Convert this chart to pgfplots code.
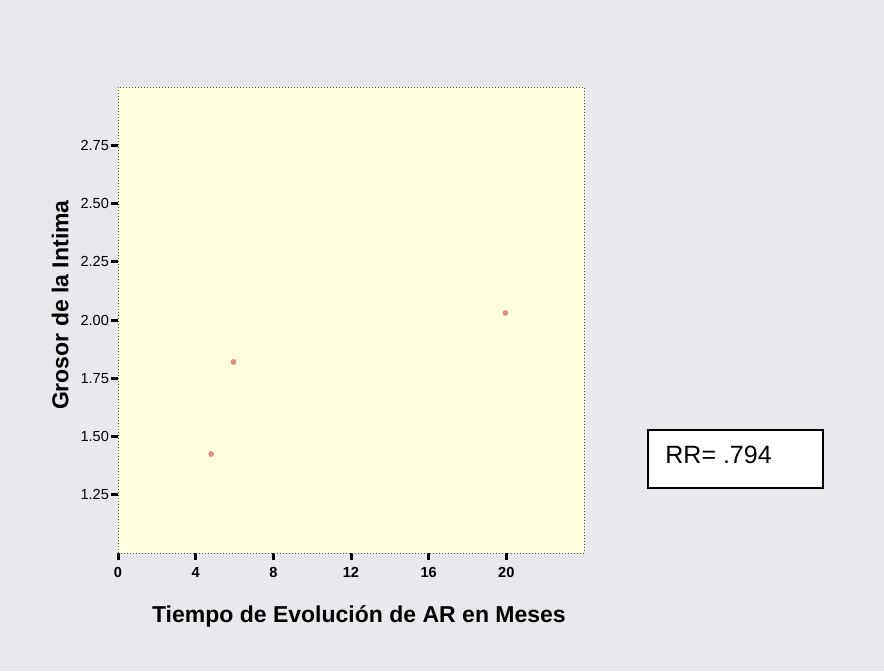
\documentclass[border=0pt]{standalone}
\usepackage{fontspec}
\setmainfont{Liberation Sans}
\usepackage{pgfplots}
\pgfplotsset{compat=1.18}
\definecolor{bgpage}{RGB}{233,233,237}
\definecolor{plotbg}{RGB}{255,255,222}
\definecolor{ptred}{RGB}{230,140,120}
\begin{document}
\begin{tikzpicture}[x=0.5pt,y=0.5pt]
\fill[bgpage] (0,0) rectangle (884,671);
\begin{axis}[at={(59pt,59pt)},anchor=south west,
  width=233pt,height=233pt,scale only axis,
  xmin=0,xmax=24,ymin=1,ymax=3,
  xtick={0,4,8,12,16,20},ytick={1.25,1.5,1.75,2,2.25,2.5,2.75},
  axis background/.style={fill=plotbg},
  axis line style={densely dotted,black!70,line width=0.5pt},
  tick style={black,line width=1.5pt},major tick length=3.5pt,tick align=outside,
  xtick pos=lower,ytick pos=left,
  /pgf/number format/assume math mode=true,
  yticklabel style={font=\fontsize{7.3}{8}\selectfont,xshift=2.5pt,/pgf/number format/.cd,fixed,fixed zerofill,precision=2},
  xticklabel style={font=\fontsize{7.3}{8}\selectfont\bfseries},
  xlabel={Tiempo de Evolución de AR en Meses},
  ylabel={Grosor de la Intima},
  label style={font=\fontsize{11.5}{13}\selectfont\bfseries},
  xlabel style={at={(axis description cs:0.517,-0.137)},anchor=center},
  ylabel style={at={(axis description cs:-0.124,0.532)},anchor=center,rotate=0},
]
\addplot[only marks,mark=*,mark size=1.2pt,color=ptred] coordinates {
(4.8,1.425) (5.95,1.82) (19.95,2.03)};
\end{axis}
\draw[line width=0.75pt,fill=white] (648,183) rectangle (823,241);
\node[anchor=base west,inner sep=0pt,font=\fontsize{12.5}{14}\selectfont] at (665,208) {RR= .794};
\end{tikzpicture}
\end{document}
